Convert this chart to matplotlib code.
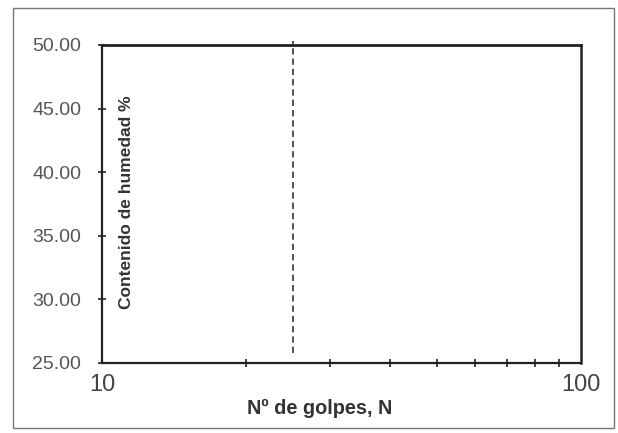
import matplotlib
matplotlib.use("Agg")
import matplotlib.pyplot as plt
from matplotlib.patches import Rectangle
from matplotlib.ticker import FixedLocator, NullFormatter

plt.rcParams['font.family'] = ['Liberation Sans', 'DejaVu Sans']

# Data
x_limits = [10, 100]
y_limits = [25, 50]
y_ticks = [25, 30, 35, 40, 45, 50]
y_tick_labels = ["25.00", "30.00", "35.00", "40.00", "45.00", "50.00"]
x_major_ticks = [10, 100]
x_major_labels = ["10", "100"]
x_minor_ticks = [20, 30, 40, 50, 60, 70, 80, 90]
ref_x = [25, 25]
ref_y = [25.8, 50.3]
x_label = "Nº de golpes, N"
y_label = "Contenido de humedad %"

fig = plt.figure(figsize=(6.18, 4.33), dpi=100)
fig.patch.set_facecolor("white")

# outer frame
fig.patches.append(Rectangle((0.021, 0.0115), 0.9725, 0.970, transform=fig.transFigure,
                             fill=False, edgecolor="#777777", linewidth=1.0))

ax = fig.add_axes([0.165, 0.1617, 0.775, 0.7345])
ax.set_xscale("log")
ax.set_xlim(*x_limits)
ax.set_ylim(*y_limits)

ax.xaxis.set_major_locator(FixedLocator(x_major_ticks))
ax.set_xticklabels(x_major_labels)
ax.xaxis.set_minor_locator(FixedLocator(x_minor_ticks))
ax.xaxis.set_minor_formatter(NullFormatter())
ax.set_yticks(y_ticks)
ax.set_yticklabels(y_tick_labels)

for s in ax.spines.values():
    s.set_color("#222222")
ax.spines['top'].set_linewidth(2.0)
ax.spines['right'].set_linewidth(1.8)
ax.spines['left'].set_linewidth(1.6)
ax.spines['bottom'].set_linewidth(1.6)

ax.tick_params(axis='x', which='both', direction='inout', length=6, width=1.2,
               color="#222222", labelsize=17, labelcolor="#444444", pad=8)
ax.tick_params(axis='x', which='major', length=0)
ax.tick_params(axis='y', which='major', direction='inout', length=6, width=1.2,
               color="#222222", labelsize=14, labelcolor="#555555", pad=12)

ax.plot(ref_x, ref_y, linestyle=(0, (3.5, 2.2)), color="#444444", linewidth=1.3,
        clip_on=False)

ax.text(0.052, 0.506, y_label, transform=ax.transAxes, rotation=90,
        ha="center", va="center", fontsize=12.5, fontweight="bold", color="#333333")
fig.text(320 / 618, 1 - 408 / 433, x_label, ha="center", va="center",
         fontsize=14.3, fontweight="bold", color="#333333")

fig.savefig("out.png", dpi=100, facecolor="white")
